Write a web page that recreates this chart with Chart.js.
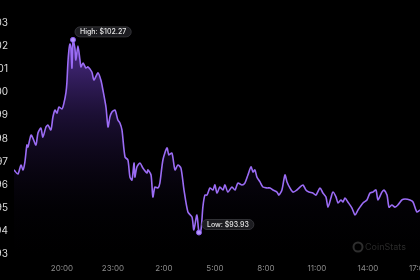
<!DOCTYPE html>
<html>
<head>
<meta charset="utf-8">
<script src="https://cdn.jsdelivr.net/npm/chart.js@4"></script>
<style>
  html, body { margin: 0; padding: 0; background: #000; overflow: hidden; width: 420px; height: 280px; }
  #wrap { position: absolute; left: -30px; top: 0; width: 500px; height: 280px; }
</style>
</head>
<body>
<div id="wrap"><canvas id="priceChart" width="500" height="280"></canvas></div>
<script>
// ─── DATA ─────────────────────────────────────────────────────────────────────

// hours since midnight of day 1 (values > 24 are the next day)
const times = [
  17.18, 17.41, 17.59, 17.71, 17.82, 17.94, 18.00, 18.18, 18.29, 18.47,
  18.59, 18.76, 18.88, 19.06, 19.18, 19.35, 19.47, 19.59, 19.71, 19.82,
  20.00, 20.12, 20.24, 20.29, 20.35, 20.41, 20.47, 20.53, 20.59, 20.65,
  20.76, 20.82, 20.94, 21.06, 21.12, 21.24, 21.41, 21.53, 21.76, 21.88,
  22.12, 22.29, 22.41, 22.59, 22.71, 22.82, 22.94, 23.12, 23.29, 23.41,
  23.53, 23.71, 23.88, 24.00, 24.12, 24.24, 24.29, 24.41, 24.59, 24.76,
  25.00, 25.06, 25.24, 25.35, 25.47, 25.65, 25.76, 25.94, 26.18, 26.29,
  26.47, 26.65, 26.82, 27.00, 27.18, 27.41, 27.65, 27.76, 27.94, 28.06,
  28.18, 28.29, 28.41, 28.53, 28.71, 28.88, 29.00, 29.12, 29.29, 29.47,
  29.59, 29.76, 30.00, 30.18, 30.35, 30.59, 30.76, 30.94, 31.12, 31.24,
  31.35, 31.47, 31.65, 31.82, 32.06, 32.24, 32.41, 32.65, 32.76, 32.94,
  33.12, 33.24, 33.41, 33.59, 33.82, 34.00, 34.18, 34.35, 34.53, 34.76,
  34.94, 35.18, 35.35, 35.53, 35.65, 35.82, 35.94, 36.12, 36.24, 36.41,
  36.53, 36.65, 36.82, 37.06, 37.24, 37.41, 37.71, 37.94, 38.12, 38.29,
  38.47, 38.59, 38.82, 38.94, 39.12, 39.24, 39.41, 39.59, 39.76, 40.00,
  40.18, 40.47, 40.65, 40.88, 41.06, 41.35
];

const prices = [
  96.64, 96.46, 96.85, 96.64, 96.98, 97.72, 97.63, 98.15, 98.02, 97.72,
  98.24, 98.45, 98.06, 98.50, 98.58, 98.37, 98.93, 99.23, 99.10, 99.36,
  99.28, 99.54, 100.01, 100.40, 101.27, 101.83, 102.09, 101.92, 101.05, 102.27,
  101.92, 101.40, 102.00, 101.40, 101.10, 101.27, 101.05, 101.10, 100.88, 100.53,
  100.84, 100.53, 100.10, 99.36, 98.50, 98.93, 99.15, 99.23, 98.80, 98.67,
  98.37, 97.20, 97.07, 96.33, 96.20, 96.94, 96.33, 96.77, 96.94, 96.72,
  96.51, 96.64, 96.42, 95.47, 95.90, 95.86, 96.07, 97.07, 97.59, 97.29,
  97.37, 96.64, 96.85, 96.72, 95.77, 94.82, 94.60, 94.04, 94.69, 93.93,
  94.04, 95.03, 95.55, 95.55, 95.86, 95.77, 95.99, 95.64, 95.90, 95.77,
  95.99, 95.68, 95.90, 95.77, 96.07, 95.99, 96.07, 96.42, 96.77, 96.55,
  96.64, 96.33, 96.12, 95.90, 95.86, 95.86, 95.77, 95.68, 95.55, 95.77,
  96.42, 96.12, 95.86, 95.68, 95.77, 95.90, 95.99, 95.77, 95.68, 95.64,
  95.55, 95.86, 95.64, 95.47, 95.03, 95.42, 95.68, 95.47, 95.21, 95.34,
  95.25, 95.42, 95.25, 94.99, 94.69, 94.90, 95.21, 95.34, 95.64, 95.68,
  95.77, 95.34, 95.68, 95.77, 95.55, 95.03, 95.12, 95.03, 95.12, 95.34,
  95.38, 95.34, 95.25, 94.82, 94.90, 94.99
];

const tickHours  = [20, 23, 26, 29, 32, 35, 38, 41];
const tickLabels = ['20:00', '23:00', '2:00', '5:00', '8:00', '11:00', '14:00', '17:00'];
const priceTicks = [93, 94, 95, 96, 97, 98, 99, 100, 101, 102, 103];

// ─── HIGH / LOW ───────────────────────────────────────────────────────────────

const hiIdx = prices.indexOf(Math.max(...prices));
const loIdx = prices.indexOf(Math.min(...prices));

const markerPlugin = {
  id: 'markers',
  afterDatasetsDraw(chart) {
    const { ctx, scales: { x, y } } = chart;
    const tags = [
      { idx: hiIdx, text: 'High: $' + prices[hiIdx].toFixed(2), dx: 2, dy: -13 },
      { idx: loIdx, text: 'Low: $' + prices[loIdx].toFixed(2), dx: 3, dy: -13 },
    ];
    ctx.save();
    ctx.font = '500 7px Inter, "Noto Sans", sans-serif';
    for (const t of tags) {
      const px = x.getPixelForValue(times[t.idx]);
      const py = y.getPixelForValue(prices[t.idx]);
      const w = ctx.measureText(t.text).width + 10;
      const bx = px + t.dx, by = py + t.dy;
      ctx.beginPath();
      ctx.roundRect(bx, by, w, 10, 5);
      ctx.fillStyle = '#1c1c20';
      ctx.fill();
      ctx.strokeStyle = '#3b3b40';
      ctx.lineWidth = 0.8;
      ctx.stroke();
      ctx.fillStyle = '#e6e6e6';
      ctx.textBaseline = 'middle';
      ctx.fillText(t.text, bx + 5, by + 5.3);
    }

    // watermark
    ctx.beginPath();
    ctx.arc(388, 247, 4.5, 0, Math.PI * 2);
    ctx.strokeStyle = '#2e2e2e';
    ctx.lineWidth = 2;
    ctx.stroke();
    ctx.font = '9px Inter, "Noto Sans", sans-serif';
    ctx.fillStyle = '#2a2a2a';
    ctx.fillText('CoinStats', 395, 247.5);
    ctx.restore();
  }
};

// ─── CHART ────────────────────────────────────────────────────────────────────

const canvas = document.getElementById('priceChart');
const c2d = canvas.getContext('2d');

new Chart(canvas, {
  type: 'line',
  data: {
    datasets: [{
      data: times.map((t, i) => ({ x: t, y: prices[i] })),
      borderColor: '#9b6cf5',
      borderWidth: 1.6,
      tension: 0.25,
      fill: 'start',
      backgroundColor: (context) => {
        const area = context.chart.chartArea;
        if (!area) return 'rgba(0,0,0,0)';
        const g = c2d.createLinearGradient(0, area.top, 0, area.bottom);
        g.addColorStop(0, 'rgba(135, 80, 240, 0.7)');
        g.addColorStop(0.4, 'rgba(90, 50, 170, 0.3)');
        g.addColorStop(0.8, 'rgba(30, 15, 60, 0.08)');
        g.addColorStop(1, 'rgba(20, 10, 40, 0)');
        return g;
      },
      pointRadius: (c) => (c.dataIndex === hiIdx || c.dataIndex === loIdx) ? 2.5 : 0,
      pointBackgroundColor: '#b596fb',
      pointBorderColor: '#8a5cf0',
      pointBorderWidth: 1,
    }]
  },
  options: {
    responsive: false,
    animation: false,
    devicePixelRatio: 1,
    layout: { padding: { top: 23, right: 40, bottom: 0, left: 0 } },
    plugins: { legend: { display: false }, tooltip: { enabled: false } },
    scales: {
      x: {
        type: 'linear',
        min: 17.18,
        max: 41.65,
        grid: { display: false, drawTicks: false },
        border: { display: false },
        afterBuildTicks: (s) => { s.ticks = tickHours.map(v => ({ value: v })); },
        afterFit: (s) => { s.height = 26; },
        ticks: {
          padding: 10,
          color: '#8a8a8a',
          maxRotation: 0,
          autoSkip: false,
          font: { family: 'Inter', size: 8 },
          callback: (v) => tickLabels[tickHours.indexOf(v)] ?? ''
        }
      },
      y: {
        min: 93,
        max: 103,
        grid: { display: false, drawTicks: false },
        border: { display: false },
        afterBuildTicks: (s) => { s.ticks = priceTicks.map(v => ({ value: v })); },
        afterFit: (s) => { s.width = 44; },
        ticks: {
          padding: 6,
          color: '#dcdcdc',
          font: { family: 'Inter', size: 10 },
          callback: (v) => '$' + v
        }
      }
    }
  },
  plugins: [markerPlugin]
});
</script>
</body>
</html>
